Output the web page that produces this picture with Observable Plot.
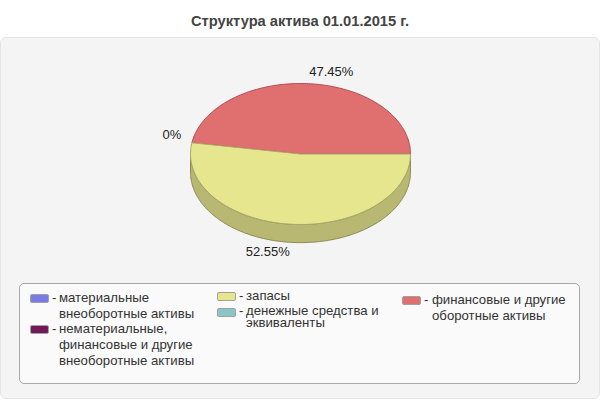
<!DOCTYPE html>
<html><head><meta charset="utf-8">
<script src="https://cdn.jsdelivr.net/npm/d3@7"></script>
<script src="https://cdn.jsdelivr.net/npm/@observablehq/plot@0.6"></script>
<style>
html,body{margin:0;padding:0;background:#fff;width:600px;height:400px;overflow:hidden;font-family:"Liberation Sans",Arial,sans-serif}
#title{position:absolute;left:0;top:13px;width:600px;text-align:center;font-size:14.7px;font-weight:bold;color:#444;line-height:16px}
#panel{position:absolute;left:0;top:37px;width:598px;height:360px;background:#f4f4f4;border:1px solid #e4e4e4;border-radius:6px}
#chart{position:absolute;left:0;top:0}
#legend{position:absolute;left:19px;top:283px;width:559px;height:99px;background:#fafafa;border:1px solid #a8a8a8;border-radius:5px}
.sw{position:absolute;width:17px;height:7px;border:1px solid #a0a0a0;border-radius:2px}
.li{position:absolute;font-size:13.2px;line-height:12px;color:#333;white-space:pre}
</style></head><body>
<div id="title"></div><div id="panel"></div><div id="chart"></div><div id="legend"></div>
<script>
const titleText = "Структура актива 01.01.2015 г.";
const categories = ["финансовые и другие оборотные активы","материальные внеоборотные активы","нематериальные, финансовые и другие внеоборотные активы","денежные средства и эквиваленты","запасы"];
const shares = [47.45,0,0,0,52.55];
const colors = ["#e07070","#7b7be8","#73195a","#8ac6c6","#e6e68f"];
const edgeColors = ["#b04a52","#7b7be8","#73195a","#8ac6c6","#a8a868"];
const labels = [
 {i:0,text:"47.45%",dx:22,dy:-12},
 {i:2,text:"0%",dx:-20,dy:-8},
 {i:4,text:"52.55%",dx:-24,dy:28}
];
const sideFill = "#b8b873", sideEdge = "#8a8a50";
const depth = 18/70;

document.getElementById("title").textContent = titleText;

// slices run counter-clockwise from due east
let acc = 0;
const slices = shares.map((v,i)=>{const a0=acc/100*2*Math.PI; acc+=v; const a1=acc/100*2*Math.PI; return {i,a0,a1,mid:(a0+a1)/2,fill:colors[i],edge:edgeColors[i]};});
const arc = (a0,a1)=>{const n=Math.max(2,Math.ceil((a1-a0)*60)); return d3.range(n+1).map(k=>{const a=a0+(a1-a0)*k/n; return [Math.cos(a),Math.sin(a)];});};
const wedge = s=>[[0,0],...arc(s.a0,s.a1),[0,0]];
const front = arc(Math.PI,2*Math.PI);
const wall = [...front.map(([x,y])=>[x,y]),...front.slice().reverse().map(([x,y])=>[x,y-depth])];
wall.push(wall[0]);
const visible = slices.filter(s=>s.a1>s.a0);
const labelData = labels.map(l=>{const s=slices[l.i]; return {...l,x:Math.cos(s.mid),y:Math.sin(s.mid)};});

const marks = [
 Plot.line(wall,{x:d=>d[0],y:d=>d[1],fill:sideFill,stroke:sideEdge,strokeWidth:1}),
 ...visible.map(s=>Plot.line(wedge(s),{x:d=>d[0],y:d=>d[1],fill:s.fill,stroke:s.edge,strokeWidth:1})),
 ...labelData.map(l=>Plot.text([l],{x:"x",y:"y",text:"text",dx:l.dx,dy:l.dy,fontSize:13,fill:"#222",textAnchor:"middle",fontFamily:"Liberation Sans, Arial, sans-serif"}))
];
const svg = Plot.plot({width:600,height:400,margin:0,style:{background:"transparent",overflow:"visible"},
 x:{domain:[-1,1],range:[190,410],axis:null},
 y:{domain:[-1,1],range:[224,83],axis:null},
 marks});
document.getElementById("chart").appendChild(svg);

// legend
const legendItems = [
 {c:1,sx:10,sy:10,tx:39,lines:[["материальные",8],["внеоборотные активы",24]]},
 {c:2,sx:10,sy:41,tx:39,lines:[["нематериальные,",39],["финансовые и другие",55],["внеоборотные активы",71]]},
 {c:4,sx:197,sy:8,tx:226,lines:[["запасы",6]]},
 {c:3,sx:197,sy:24,tx:226,lines:[["денежные средства и",21],["эквиваленты",33]]},
 {c:0,sx:382,sy:12,tx:412,lines:[["финансовые и другие",10],["оборотные активы",26]]}
];
const lg = document.getElementById("legend");
legendItems.forEach(it=>{
 const sw=document.createElement("div"); sw.className="sw"; sw.style.left=it.sx+"px"; sw.style.top=it.sy+"px"; sw.style.background=colors[it.c]; lg.appendChild(sw);
 const dash=document.createElement("div"); dash.className="li"; dash.textContent="-"; dash.style.left=(it.sx+22)+"px"; dash.style.top=it.lines[0][1]+"px"; lg.appendChild(dash);
 it.lines.forEach(([t,y])=>{const d=document.createElement("div"); d.className="li"; d.textContent=t; d.style.left=it.tx+"px"; d.style.top=y+"px"; lg.appendChild(d);});
});
</script></body></html>
